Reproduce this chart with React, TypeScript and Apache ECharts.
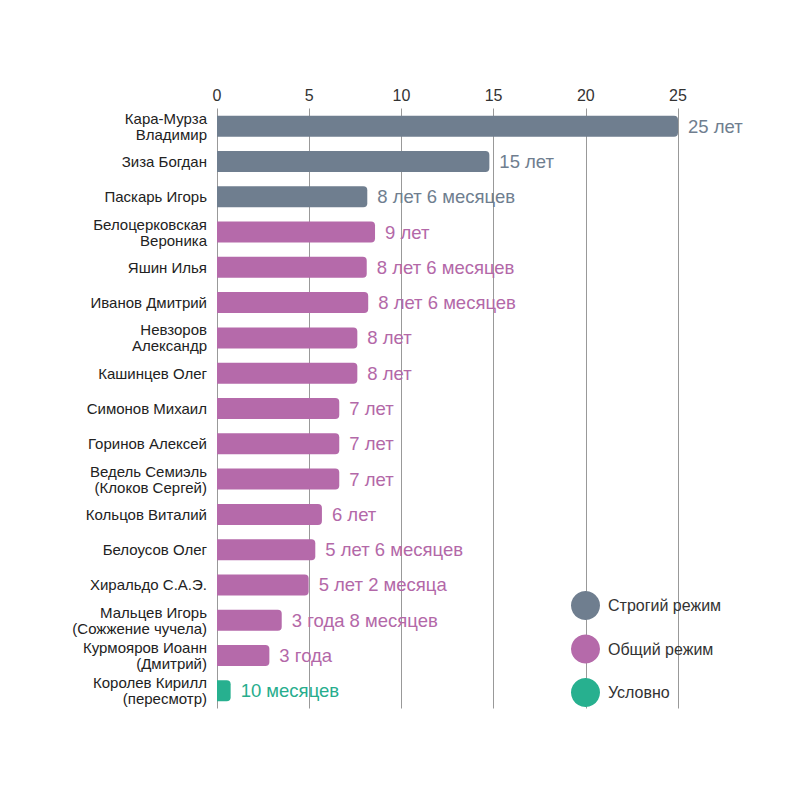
import React, { useEffect, useRef } from "react";
import * as echarts from "echarts";

const names = [
  "Кара-Мурза\nВладимир",
  "Зиза Богдан",
  "Паскарь Игорь",
  "Белоцерковская\nВероника",
  "Яшин Илья",
  "Иванов Дмитрий",
  "Невзоров\nАлександр",
  "Кашинцев Олег",
  "Симонов Михаил",
  "Горинов Алексей",
  "Ведель Семиэль\n(Клоков Сергей)",
  "Кольцов Виталий",
  "Белоусов Олег",
  "Хиральдо С.А.Э.",
  "Мальцев Игорь\n(Сожжение чучела)",
  "Курмояров Иоанн\n(Дмитрий)",
  "Королев Кирилл\n(пересмотр)",
];

// bar lengths as drawn in the picture (years)
const values = [25, 14.77, 8.15, 8.57, 8.12, 8.2, 7.61, 7.61, 6.63, 6.63, 6.63, 5.69, 5.33, 4.97, 3.51, 2.84, 0.74];

const sentences = [
  "25 лет",
  "15 лет",
  "8 лет 6 месяцев",
  "9 лет",
  "8 лет 6 месяцев",
  "8 лет 6 месяцев",
  "8 лет",
  "8 лет",
  "7 лет",
  "7 лет",
  "7 лет",
  "6 лет",
  "5 лет 6 месяцев",
  "5 лет 2 месяца",
  "3 года 8 месяцев",
  "3 года",
  "10 месяцев",
];

// 0 = строгий, 1 = общий, 2 = условно
const regime = [0, 0, 0, 1, 1, 1, 1, 1, 1, 1, 1, 1, 1, 1, 1, 1, 2];

const seriesNames = ["Строгий режим", "Общий режим", "Условно"];
const seriesColors = ["#6f7e8f", "#b56aaa", "#27b08f"];
const labelColors = ["#6f7e8f", "#b368a8", "#27ad8d"];
const xTicks = [0, 5, 10, 15, 20, 25];

const FONT = "Liberation Sans, Arial, sans-serif";

export default function App() {
  const ref = useRef<HTMLDivElement>(null);
  useEffect(() => {
    if (!ref.current) return;
    const chart = echarts.init(ref.current, undefined, { renderer: "svg" });
    const series = seriesNames.map((name, si) => ({
      name,
      type: "bar",
      stack: "total",
      barWidth: 21,
      itemStyle: { color: seriesColors[si], borderRadius: [0, 4, 4, 0] },
      label: {
        show: true,
        position: "right",
        distance: 10,
        color: labelColors[si],
        fontSize: 18.5,
        fontFamily: FONT,
        formatter: (p: any) => sentences[p.dataIndex],
      },
      data: values.map((v, i) => (regime[i] === si ? v : null)),
    }));
    chart.setOption({
      animation: false,
      textStyle: { fontFamily: FONT },
      grid: { left: 209, right: 130, top: 100.5, bottom: 99.5, containLabel: false },
      legend: {
        orient: "vertical",
        left: 558,
        top: 578,
        itemWidth: 29,
        itemHeight: 29,
        itemGap: 14.5,
        icon: "circle",
        textStyle: { fontSize: 16, color: "#333", fontFamily: FONT, padding: [0, 0, 0, 3] },
        data: seriesNames,
      },
      xAxis: {
        type: "value",
        position: "top",
        min: 0,
        max: 25,
        interval: 5,
        axisLine: { show: false },
        axisTick: { show: false },
        axisLabel: {
          fontSize: 16,
          color: "#333",
          margin: 5,
          fontFamily: FONT,
          customValues: xTicks,
        },
        splitLine: { show: true, lineStyle: { color: "#999", width: 1 } },
      },
      yAxis: {
        type: "category",
        inverse: true,
        data: names,
        axisLine: { show: false },
        axisTick: { show: false },
        axisLabel: {
          fontSize: 15,
          color: "#222",
          margin: 10,
          lineHeight: 16,
          fontFamily: FONT,
        },
      },
      series,
    });
    return () => chart.dispose();
  }, []);
  return <div ref={ref} style={{ width: 800, height: 800 }} />;
}
